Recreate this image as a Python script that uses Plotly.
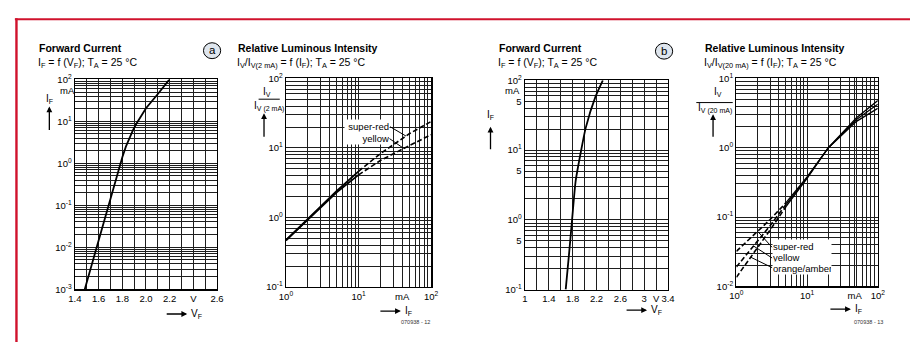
import numpy as np
import plotly.graph_objects as go

W, H = 917, 347
FONT = "Liberation Sans, Arial, sans-serif"

# ---------------- data ----------------
# (a) forward current
a_vf = [1.483, 1.585, 1.685, 1.74, 1.77, 1.8, 1.83, 1.86, 1.89, 1.92, 1.96, 2.0, 2.1, 2.198]
a_if = [0.001, 0.0105, 0.11, 0.38, 0.75, 1.4, 2.5, 4.0, 6.2, 8.9, 14.0, 20.5, 45.0, 100]

# (a) relative luminous intensity (normalised to 2 mA)
a_rel_if_solid = [1, 2, 5, 10]
a_rel_sr_solid = [0.47, 0.95, 2.4, 4.6]
a_rel_ye_solid = [0.47, 0.93, 2.3, 4.1]
a_rel_if_dash = [10, 20, 50, 100]
a_rel_sr_dash = [4.6, 8.3, 16.0, 24.0]
a_rel_ye_dash = [4.1, 6.6, 10.8, 15.5]

# (b) forward current
b_vf = [1.683, 1.74, 1.79, 1.85, 1.937, 2.02, 2.18, 2.306]
b_if = [0.1, 0.33, 1.0, 3.6, 9.4, 21, 57.5, 100]

# (b) relative luminous intensity (normalised to 20 mA)
b_rel_if_dash = [1, 2, 3, 5]
b_rel_sr_dash = [0.032, 0.062, 0.092, 0.16]
b_rel_ye_dash = [0.019, 0.045, 0.075, 0.15]
b_rel_or_dash = [0.0135, 0.036, 0.065, 0.14]
b_rel_if_solid = [5, 10, 20, 50, 100]
b_rel_sr_solid = [0.16, 0.38, 1.0, 2.4, 3.7]
b_rel_ye_solid = [0.15, 0.37, 1.0, 2.55, 4.25]
b_rel_or_solid = [0.14, 0.36, 1.0, 2.7, 4.8]

# tick labels
a_vf_ticks = [1.4, 1.6, 1.8, 2.0, 2.2, 2.4, 2.6]
a_vf_text = ["1.4", "1.6", "1.8", "2.0", "2.2", "V", "2.6"]
b_vf_ticks = [1.0, 1.4, 1.8, 2.2, 2.6, 3.0, 3.2, 3.4]
b_vf_text = ["1", "1.4", "1.8", "2.2", "2.6", "3", "V", "3.4"]
b_if_ticks = [0.1, 0.5, 1, 5, 10, 50, 100]
b_if_text = ["10<sup>-1</sup>", "5", "10<sup>0</sup>", "5", "10<sup>1</sup>", "5", "10<sup>2</sup>"]
a_rel_if_ticks = [1, 10, 40, 100]
b_rel_if_ticks = [1, 10, 47, 100]
rel_if_text = ["10<sup>0</sup>", "10<sup>1</sup>", "mA", "10<sup>2</sup>"]

# ---------------- geometry (pixels) ----------------
P = {
    "a1": dict(x0=69, x1=213.3, y0=75, y1=292.3, xr=[1.4, 2.6], yr=[-3, 2], xlog=False),
    "a2": dict(x0=283.3, x1=430.7, y0=74, y1=290, xr=[0, 2], yr=[-1, 2], xlog=True),
    "b1": dict(x0=526, x1=671.3, y0=76, y1=292.7, xr=[1.0, 3.4], yr=[-1, 2], xlog=False),
    "b2": dict(x0=740.7, x1=884.3, y0=74, y1=289.3, xr=[0, 2], yr=[-2, 1], xlog=True),
}


def fx(x):
    return x / W


def fy(y):
    return 1 - y / H


def px2data(p, X, Y):
    u = p["xr"][0] + (X - p["x0"]) / (p["x1"] - p["x0"]) * (p["xr"][1] - p["xr"][0])
    v = p["yr"][0] + (p["y1"] - Y) / (p["y1"] - p["y0"]) * (p["yr"][1] - p["yr"][0])
    return (10 ** u if p["xlog"] else u), 10 ** v


def curve_at(xs, ys, x):
    return 10 ** np.interp(np.log10(x), np.log10(xs), np.log10(ys))


def log_minor(lo, hi):
    return [m * 10.0 ** e for e in range(lo, hi) for m in range(2, 10)]


GRID = "#1e1e1e"
common = dict(showline=True, mirror=True, linecolor="black", linewidth=1.4,
              showgrid=True, gridcolor=GRID, gridwidth=1, ticks="", zeroline=False, tickangle=0,
              tickfont=dict(family=FONT, size=9.5, color="black"), fixedrange=True)

fig = go.Figure()
line = dict(color="black", width=1.8)
dash = dict(color="black", width=1.6, dash="5px,2.5px")

fig.add_trace(go.Scatter(x=a_vf, y=a_if, mode="lines", line=line, xaxis="x", yaxis="y"))

fig.add_trace(go.Scatter(x=a_rel_if_solid, y=a_rel_sr_solid, mode="lines", line=line, xaxis="x2", yaxis="y2"))
fig.add_trace(go.Scatter(x=a_rel_if_solid, y=a_rel_ye_solid, mode="lines", line=line, xaxis="x2", yaxis="y2"))
fig.add_trace(go.Scatter(x=a_rel_if_dash, y=a_rel_sr_dash, mode="lines", line=dash, xaxis="x2", yaxis="y2"))
fig.add_trace(go.Scatter(x=a_rel_if_dash, y=a_rel_ye_dash, mode="lines", line=dash, xaxis="x2", yaxis="y2"))

fig.add_trace(go.Scatter(x=b_vf, y=b_if, mode="lines", line=dict(line, shape="spline", smoothing=0.6),
                         xaxis="x3", yaxis="y3"))

for ys in (b_rel_sr_dash, b_rel_ye_dash, b_rel_or_dash):
    fig.add_trace(go.Scatter(x=b_rel_if_dash, y=ys, mode="lines", line=dash, xaxis="x4", yaxis="y4"))
for ys in (b_rel_sr_solid, b_rel_ye_solid, b_rel_or_solid):
    fig.add_trace(go.Scatter(x=b_rel_if_solid, y=ys, mode="lines", line=dict(color="black", width=1.3),
                             xaxis="x4", yaxis="y4"))

# leader lines (label -> curve)
thin = dict(color="black", width=1)
leaders = [
    ("a2", "x2", "y2", (389, 124), a_rel_if_dash, a_rel_sr_dash, 45),
    ("a2", "x2", "y2", (388, 136), a_rel_if_dash, a_rel_ye_dash, 42),
    ("b2", "x4", "y4", (777, 249), b_rel_if_dash, b_rel_sr_dash, 2.0),
    ("b2", "x4", "y4", (777, 260), b_rel_if_dash, b_rel_ye_dash, 1.75),
    ("b2", "x4", "y4", (777, 270), b_rel_if_dash, b_rel_or_dash, 1.6),
]
for key, xa, ya, (X, Y), xs, ys, xt in leaders:
    tx, ty = px2data(P[key], X, Y)
    fig.add_trace(go.Scatter(x=[tx, xt], y=[ty, curve_at(xs, ys, xt)], mode="lines", line=thin,
                             xaxis=xa, yaxis=ya))


def dom(p):
    return dict(x=[fx(p["x0"]), fx(p["x1"])], y=[fy(p["y1"]), fy(p["y0"])])


d = {k: dom(v) for k, v in P.items()}

lay = dict(width=W, height=H, margin=dict(l=0, r=0, t=0, b=0), paper_bgcolor="white",
           plot_bgcolor="white", showlegend=False, font=dict(family=FONT, color="black"),
           hovermode=False)

lay["xaxis"] = dict(common, domain=d["a1"]["x"], anchor="y", range=[1.4, 2.6],
                    tickmode="array", tickvals=a_vf_ticks, ticktext=a_vf_text,
                    minor=dict(dtick=0.1, tick0=1.4, showgrid=True, gridcolor=GRID, gridwidth=1))
lay["yaxis"] = dict(common, domain=d["a1"]["y"], anchor="x", type="log", range=[-3, 2],
                    tickmode="array", tickvals=[1e-3, 1e-2, 1e-1, 1, 10, 100],
                    ticktext=["10<sup>-3</sup>", "10<sup>-2</sup>", "10<sup>-1</sup>", "10<sup>0</sup>",
                              "10<sup>1</sup>", "10<sup>2</sup>"],
                    minor=dict(tickmode="array", tickvals=log_minor(-3, 2), showgrid=True, gridcolor=GRID,
                               gridwidth=1))

lay["xaxis2"] = dict(common, domain=d["a2"]["x"], anchor="y2", type="log", range=[0, 2],
                     tickmode="array", tickvals=a_rel_if_ticks, ticktext=rel_if_text,
                     minor=dict(tickmode="array", tickvals=log_minor(0, 2), showgrid=True, gridcolor=GRID,
                                gridwidth=1))
lay["yaxis2"] = dict(common, domain=d["a2"]["y"], anchor="x2", type="log", range=[-1, 2],
                     tickmode="array", tickvals=[0.1, 1, 10, 100],
                     ticktext=["10<sup>-1</sup>", "10<sup>0</sup>", "10<sup>1</sup>", "10<sup>2</sup>"],
                     minor=dict(tickmode="array", tickvals=log_minor(-1, 2), showgrid=True, gridcolor=GRID,
                                gridwidth=1))

lay["xaxis3"] = dict(common, domain=d["b1"]["x"], anchor="y3", range=[1.0, 3.4],
                     tickmode="array", tickvals=b_vf_ticks, ticktext=b_vf_text,
                     minor=dict(dtick=0.2, tick0=1.0, showgrid=True, gridcolor=GRID, gridwidth=1))
lay["yaxis3"] = dict(common, domain=d["b1"]["y"], anchor="x3", type="log", range=[-1, 2],
                     tickmode="array", tickvals=b_if_ticks, ticktext=b_if_text,
                     minor=dict(tickmode="array", tickvals=log_minor(-1, 2), showgrid=True, gridcolor=GRID,
                                gridwidth=1))

lay["xaxis4"] = dict(common, domain=d["b2"]["x"], anchor="y4", type="log", range=[0, 2],
                     tickmode="array", tickvals=b_rel_if_ticks, ticktext=rel_if_text,
                     minor=dict(tickmode="array", tickvals=log_minor(0, 2), showgrid=True, gridcolor=GRID,
                                gridwidth=1))
lay["yaxis4"] = dict(common, domain=d["b2"]["y"], anchor="x4", type="log", range=[-2, 1],
                     tickmode="array", tickvals=[0.01, 0.1, 1, 10],
                     ticktext=["10<sup>-2</sup>", "10<sup>-1</sup>", "10<sup>0</sup>", "10<sup>1</sup>"],
                     minor=dict(tickmode="array", tickvals=log_minor(-2, 1), showgrid=True, gridcolor=GRID,
                                gridwidth=1))

fig.update_layout(**lay)

ann = []


def text(X, Y, s, size=9.5, xanchor="left", bold=False, color="black", **kw):
    if bold:
        s = "<b>" + s + "</b>"
    a = dict(x=fx(X), y=fy(Y), xref="paper", yref="paper", text=s, showarrow=False,
             xanchor=xanchor, yanchor="middle", font=dict(family=FONT, size=size, color=color))
    a.update(kw)
    ann.append(a)


def arrow(X, Y, dx, dy):
    # tip at (X, Y); tail offset (dx, dy) pixels
    ann.append(dict(x=fx(X), y=fy(Y), xref="paper", yref="paper", text="", showarrow=True,
                    ax=dx, ay=dy, arrowhead=2, arrowsize=0.9, arrowwidth=1.3, arrowcolor="black",
                    standoff=0, startstandoff=0))


shapes = []
RED = "#d0122c"
shapes.append(dict(type="line", xref="paper", yref="paper", x0=fx(8), x1=1, y0=fy(12.7), y1=fy(12.7),
                   line=dict(color=RED, width=2.2)))
shapes.append(dict(type="line", xref="paper", yref="paper", x0=fx(9.6), x1=fx(9.6), y0=fy(11.7), y1=0,
                   line=dict(color=RED, width=2.4)))

# ---- panel a1 ----
text(30, 42.5, "Forward Current", 10.5, bold=True)
text(29, 57.5, "I<sub>F</sub> = f (V<sub>F</sub>); T<sub>A</sub> = 25 °C", 10.5)
shapes.append(dict(type="circle", xref="paper", yref="paper", x0=fx(199.5), x1=fx(217), y0=fy(53.5),
                   y1=fy(37), fillcolor="#dfe6ee", line=dict(color="black", width=1)))
text(208.3, 44.8, "a", 11.5, xanchor="center")
text(61, 86, "mA", 9.5, xanchor="center")
text(43, 95, "I<sub>F</sub>", 10, xanchor="center")
arrow(43, 103, 0, 25)
arrow(183, 318, -22, 0)
text(185, 318, "V<sub>F</sub>", 10)

# ---- panel a2 ----
text(233, 42.5, "Relative Luminous Intensity", 10.5, bold=True)
text(232, 57.5, "I<sub>V</sub>/I<sub>V(2 mA)</sub> = f (I<sub>F</sub>); T<sub>A</sub> = 25 °C", 10.5)
text(264, 88, "I<sub>V</sub>", 10, xanchor="center")
shapes.append(dict(type="line", xref="paper", yref="paper", x0=fx(255.5), x1=fx(277), y0=fy(95.5),
                   y1=fy(95.5), line=dict(color="black", width=1)))
text(266, 103, "I<sub>V (2 mA)</sub>", 10, xanchor="center")
arrow(261, 110, 0, 25)
arrow(400, 315, -22, 0)
text(402, 315, "I<sub>F</sub>", 10)
text(415, 326, "070938 - 12", 5.5, xanchor="center", color="#333")
text(389, 123.5, "super-red", 9.5, xanchor="right", align="right", bgcolor="white",
     width=44, height=12, borderpad=0)
text(389, 135.5, "yellow", 9.5, xanchor="right", align="right", bgcolor="white",
     width=44, height=12, borderpad=0)

# ---- panel b1 ----
text(498, 42.5, "Forward Current", 10.5, bold=True)
text(497, 57.5, "I<sub>F</sub> = f (V<sub>F</sub>); T<sub>A</sub> = 25 °C", 10.5)
shapes.append(dict(type="circle", xref="paper", yref="paper", x0=fx(658.5), x1=fx(676), y0=fy(54),
                   y1=fy(37.5), fillcolor="#dfe6ee", line=dict(color="black", width=1)))
text(667.3, 45.3, "b", 11.5, xanchor="center")
text(513, 86, "mA", 9.5, xanchor="center")
text(491, 112, "I<sub>F</sub>", 10, xanchor="center")
arrow(491, 124, 0, 24)
arrow(650, 314, -22, 0)
text(652, 314, "V<sub>F</sub>", 10)

# ---- panel b2 ----
text(707, 42.5, "Relative Luminous Intensity", 10.5, bold=True)
text(706, 57.5, "I<sub>V</sub>/I<sub>V(20 mA)</sub> = f (I<sub>F</sub>); T<sub>A</sub> = 25 °C", 10.5)
text(722, 88, "I<sub>V</sub>", 10, xanchor="center")
shapes.append(dict(type="line", xref="paper", yref="paper", x0=fx(700), x1=fx(737), y0=fy(99), y1=fy(99),
                   line=dict(color="black", width=1)))
text(719, 105, "I<sub>V (20 mA)</sub>", 10, xanchor="center")
arrow(717, 111, 0, 24)
arrow(857, 313, -22, 0)
text(859, 313, "I<sub>F</sub>", 10)
text(875, 326, "070938 - 13", 5.5, xanchor="center", color="#333")
text(777, 248, "super-red", 9.5, align="left", bgcolor="white", width=58, height=12, borderpad=0)
text(777, 259, "yellow", 9.5, align="left", bgcolor="white", width=58, height=12, borderpad=0)
text(777, 270, "orange/amber", 9.5, align="left", bgcolor="white", width=58, height=12, borderpad=0)

fig.update_layout(annotations=ann, shapes=shapes)
fig.write_html("out.html", config={"displayModeBar": False, "staticPlot": True},
               post_script="document.body.style.margin='0px';document.body.style.padding='0px';"
                           "document.body.style.overflow='hidden';")
